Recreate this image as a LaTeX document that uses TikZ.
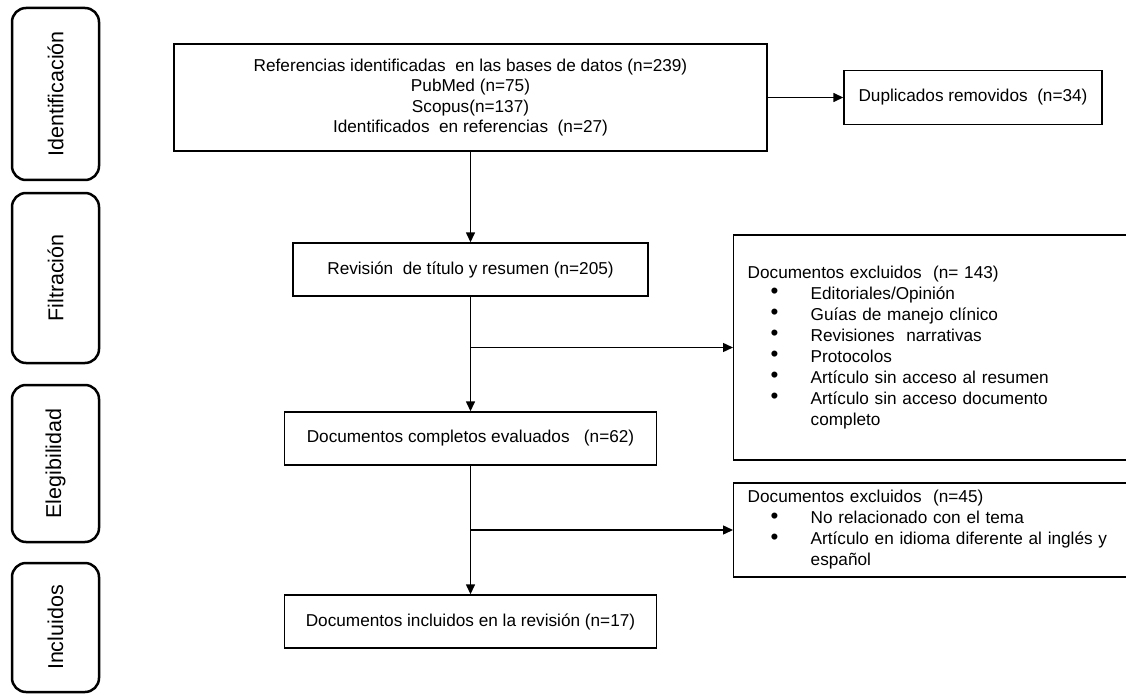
\documentclass[tikz,border=0pt]{standalone}
\usepackage{fontspec}
\setmainfont{Liberation Sans}
\usetikzlibrary{arrows.meta}
\newcommand{\bitem}[1]{\hspace*{23pt}\makebox[40pt][l]{\raisebox{0.5pt}{\scalebox{1.3}{\textbullet}}}#1}
\begin{document}
\begin{tikzpicture}[x=1pt,y=-1pt,
  txt/.style={font=\fontsize{17.2}{20.5}\selectfont},
  box/.style={draw, line width=1.4pt, rectangle, inner sep=0pt, align=center, txt},
  excl/.style={draw, line width=1.4pt, rectangle, anchor=west, inner xsep=14pt, inner ysep=0pt, align=left, text width=374pt, font=\fontsize{17.2}{21}\selectfont},
  side/.style={draw, line width=2.5pt, rounded corners=14pt, minimum height=87pt, inner sep=0pt, rotate=90, font=\fontsize{21.5}{24}\selectfont},
  arr/.style={line width=1.4pt, -{Triangle[length=10pt,width=9pt]}}]
\useasboundingbox (0,0) rectangle (1126,695);

% side labels
\node[side, minimum width=172pt] (s1) at (55.5,94) {Identificación};
\node[side, minimum width=170pt] (s2) at (55.5,278) {Filtración};
\node[side, minimum width=157pt] (s3) at (55.5,463.5) {Elegibilidad};
\node[side, minimum width=129pt] (s4) at (55.5,627.5) {Incluidos};

% main boxes
\node[box, minimum width=593pt, minimum height=107pt] (top) at (470.5,97.5)
  {Referencias identificadas\ \ en las bases de datos (n=239)\\PubMed (n=75)\\Scopus(n=137)\\Identificados\ \ en referencias\ \ (n=27)};
\node[box, minimum width=258pt, minimum height=54pt] (dup) at (973,97.5) {Duplicados removidos\ \ (n=34)};
\node[box, minimum width=355pt, minimum height=53pt] (rev) at (470.5,269.5) {Revisión\ \ de título y resumen (n=205)};
\node[box, minimum width=372pt, minimum height=53pt] (comp) at (470.5,438.5) {Documentos completos evaluados\ \ \ (n=62)};
\node[box, minimum width=372pt, minimum height=53pt] (inc) at (470.5,621.5) {Documentos incluidos en la revisión (n=17)};

\node[excl, minimum height=225pt] (ex1) at (733,347.5)
  {Documentos excluidos\ \ (n= 143)\\
   \bitem{Editoriales/Opinión}\\
   \bitem{Guías de manejo clínico}\\
   \bitem{Revisiones\ \ narrativas}\\
   \bitem{Protocolos}\\
   \bitem{Artículo sin acceso al resumen}\\
   \bitem{Artículo sin acceso documento}\\
   \hspace*{63pt}completo};
\node[excl, minimum height=94pt] (ex2) at (733,530)
  {Documentos excluidos\ \ (n=45)\\
   \bitem{No relacionado con el tema}\\
   \bitem{Artículo en idioma diferente al inglés y}\\
   \hspace*{63pt}español};

% connectors
\draw[arr] (top.south) -- (rev.north);
\draw[arr] (top.east) -- (dup.west);
\draw[arr] (rev.south) -- (comp.north);
\coordinate (b1) at (rev.south |- ex1.west);
\draw[arr] (b1) -- (ex1.west);
\draw[arr] (comp.south) -- (inc.north);
\coordinate (b2) at (comp.south |- ex2.west);
\draw[arr] (b2) -- (ex2.west);
\end{tikzpicture}
\end{document}
